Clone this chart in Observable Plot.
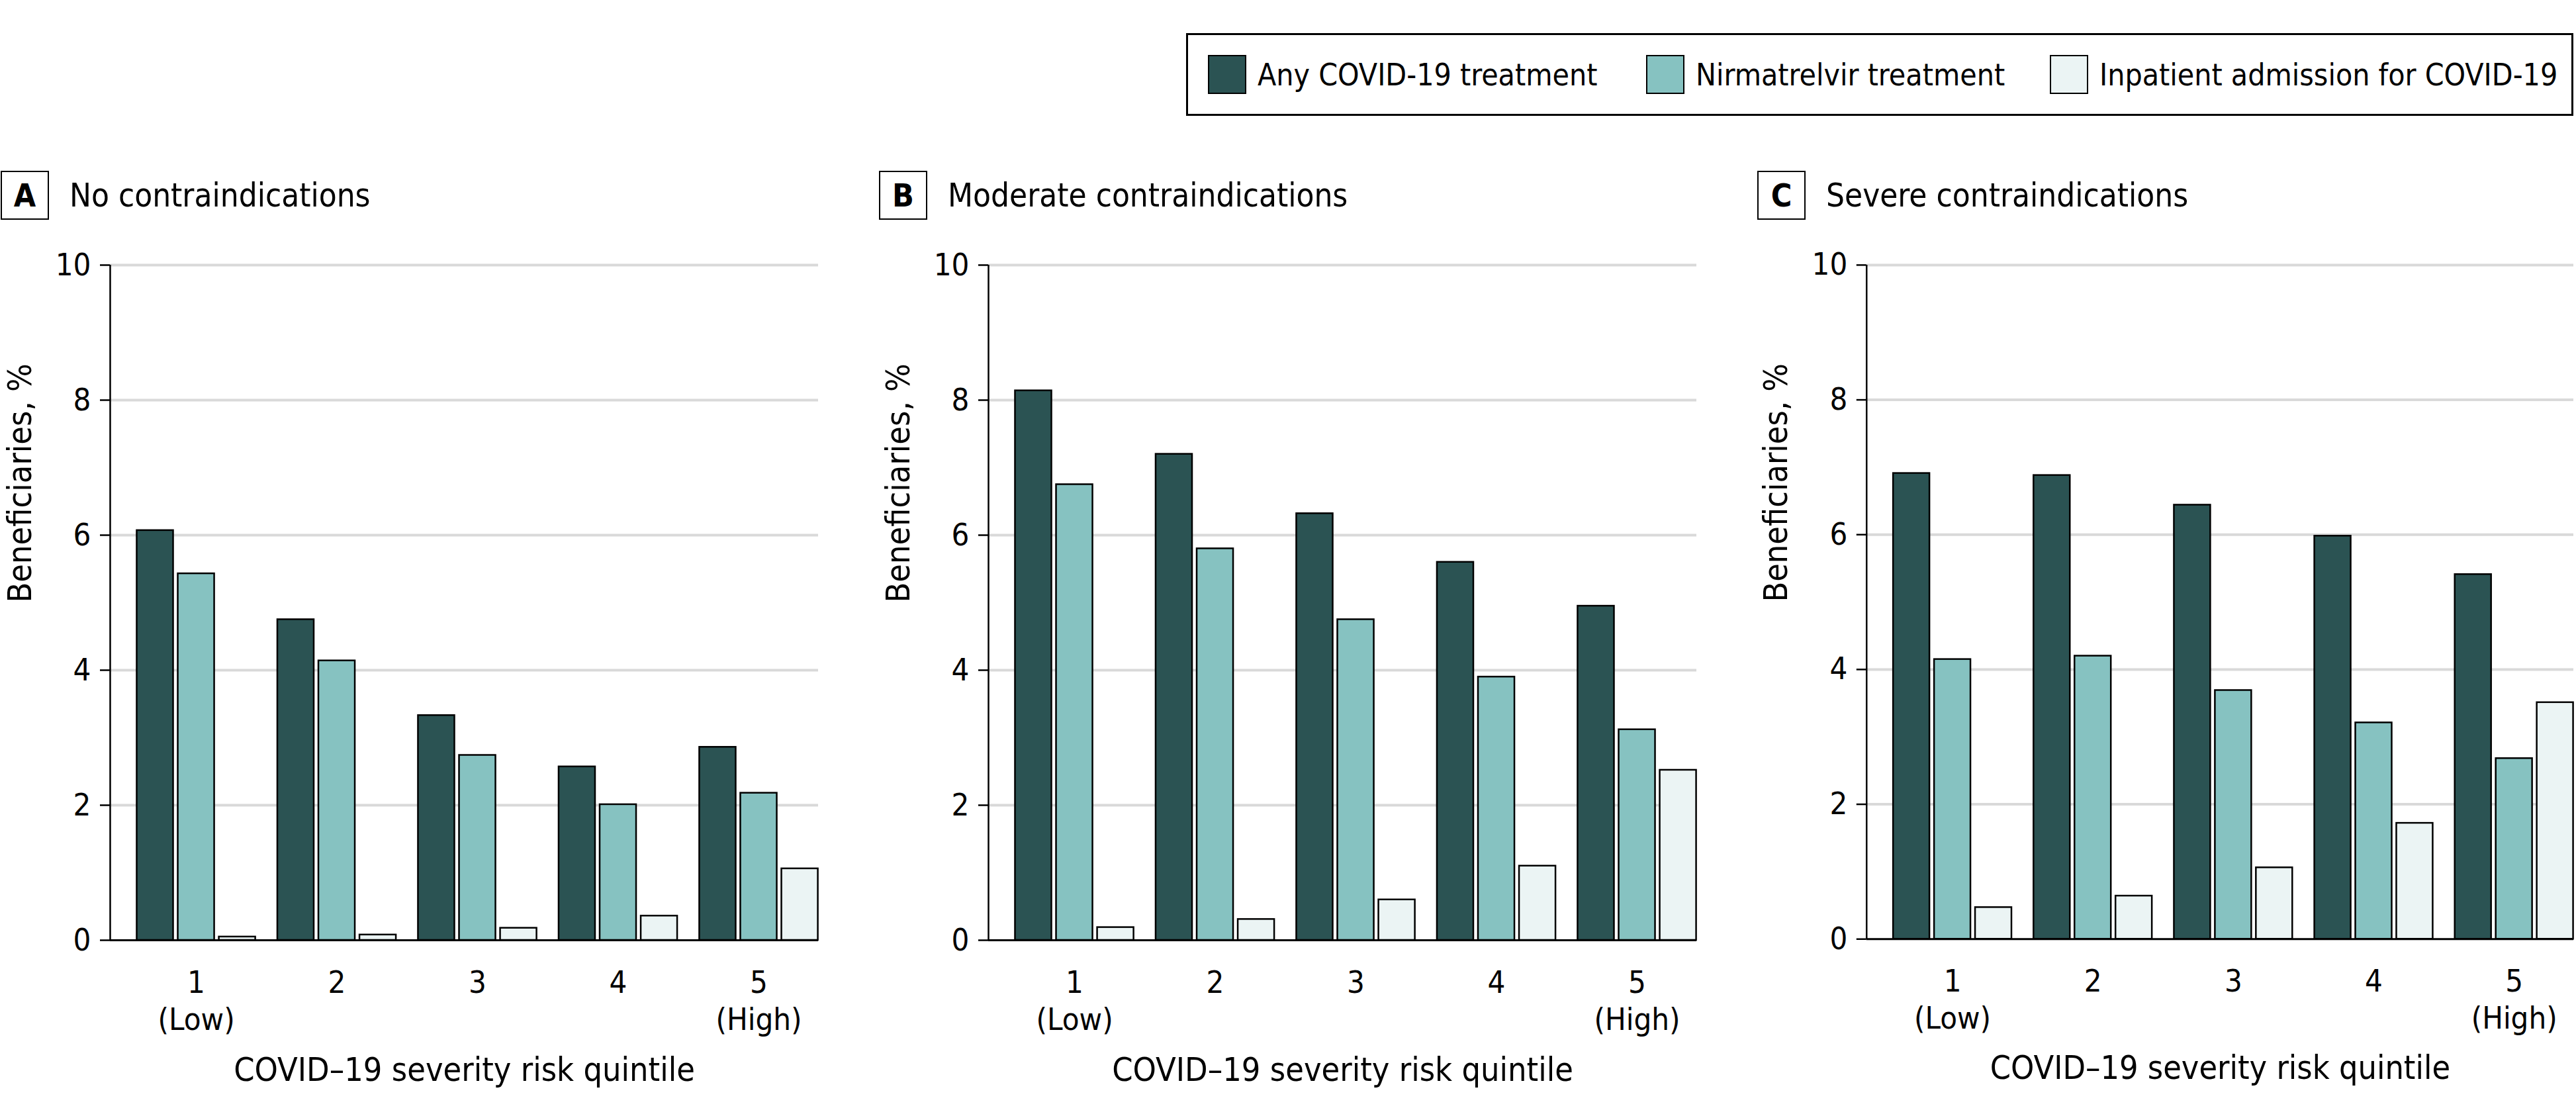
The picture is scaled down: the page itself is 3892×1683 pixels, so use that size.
<!DOCTYPE html>
<html>
<head>
<meta charset="utf-8">
<script src="https://cdn.jsdelivr.net/npm/d3@7"></script>
<script src="https://cdn.jsdelivr.net/npm/@observablehq/plot@0.6"></script>
<style>
  html, body { margin: 0; padding: 0; background: #fff; }
  #root { position: relative; width: 3892px; height: 1683px; overflow: hidden; background: #fff;
          font-family: "DejaVu Sans Condensed", "DejaVu Sans", sans-serif; font-stretch: condensed; color: #000; }
  .legend { position: absolute; left: 1792px; top: 50px; width: 2096px; height: 125px; box-sizing: border-box;
            border: 3px solid #000; }
  .legend .item { position: absolute; top: 0; height: 119px; display: flex; align-items: center; }
  .legend .sw { width: 58px; height: 59px; box-sizing: border-box; border: 2.5px solid #000; margin-right: 17px; }
  .legend .lab { font-size: 46px; white-space: nowrap; }
  .hdr-box { position: absolute; top: 258px; width: 73px; height: 74px; box-sizing: border-box; border: 2.5px solid #000;
             display: flex; align-items: center; justify-content: center; font-weight: bold; font-size: 48px; }
  .hdr-title { position: absolute; top: 258px; height: 74px; display: flex; align-items: center; font-size: 49px; white-space: nowrap; }
  .panel { position: absolute; top: 352px; }
  .panel svg { overflow: visible; }
</style>
</head>
<body>
<div id="root"></div>
<script>
// ---- data ----
const quintiles = [1, 2, 3, 4, 5];
const quintileLabels = ["1\n(Low)", "2", "3", "4", "5\n(High)"];
const seriesNames = ["Any COVID-19 treatment", "Nirmatrelvir treatment", "Inpatient admission for COVID-19"];
const seriesColors = ["#2b5353", "#86c2c1", "#ebf4f4"];
const panelLetters = ["A", "B", "C"];
const panelTitles = ["No contraindications", "Moderate contraindications", "Severe contraindications"];
const yTicks = [0, 2, 4, 6, 8, 10];
const xLabel = "COVID\u201319 severity risk quintile";
const yLabel = "Beneficiaries, %";

// A: No contraindications
const noContraAny       = [6.07, 4.75, 3.33, 2.57, 2.86];
const noContraNirm      = [5.43, 4.14, 2.74, 2.01, 2.18];
const noContraInpatient = [0.05, 0.08, 0.18, 0.36, 1.06];
// B: Moderate contraindications
const modContraAny       = [8.14, 7.20, 6.32, 5.60, 4.95];
const modContraNirm      = [6.75, 5.80, 4.75, 3.90, 3.12];
const modContraInpatient = [0.19, 0.31, 0.60, 1.10, 2.52];
// C: Severe contraindications
const sevContraAny       = [6.91, 6.88, 6.44, 5.98, 5.41];
const sevContraNirm      = [4.15, 4.20, 3.69, 3.21, 2.68];
const sevContraInpatient = [0.47, 0.64, 1.06, 1.72, 3.51];

const panels = [
  [noContraAny, noContraNirm, noContraInpatient],
  [modContraAny, modContraNirm, modContraInpatient],
  [sevContraAny, sevContraNirm, sevContraInpatient]
];

// ---- layout ----
const FONT = '"DejaVu Sans Condensed", "DejaVu Sans", sans-serif';
const PANEL_PITCH = 1327;
const BAR_W = 0.259;      // bar width in quintile-step units
const BAR_STEP = 0.292;   // distance between bar centres within a group
const X_DOMAIN = [0.388, 5.4235];

const root = document.getElementById("root");

// legend
const legend = document.createElement("div");
legend.className = "legend";
const legendX = [30, 692, 1302];
seriesNames.forEach((name, i) => {
  const item = document.createElement("div");
  item.className = "item";
  item.style.left = legendX[i] + "px";
  const sw = document.createElement("div");
  sw.className = "sw";
  sw.style.background = seriesColors[i];
  const lab = document.createElement("span");
  lab.className = "lab";
  lab.textContent = name;
  item.appendChild(sw);
  item.appendChild(lab);
  legend.appendChild(item);
});
root.appendChild(legend);

function makePanel(series) {
  const data = [];
  series.forEach((vals, s) => vals.forEach((v, i) => data.push({q: quintiles[i], s, v})));
  const cx = d => d.q + (d.s - 1) * BAR_STEP;
  return Plot.plot({
    width: 1240,
    height: 1331,
    marginLeft: 166,
    marginRight: 4,
    marginTop: 48,
    marginBottom: 263,
    style: {fontFamily: FONT, fontSize: "47px", background: "transparent", color: "#000", overflow: "visible"},
    x: {domain: X_DOMAIN},
    y: {domain: [0, 10]},
    color: {type: "ordinal", domain: [0, 1, 2], range: seriesColors},
    marks: [
      Plot.gridY(yTicks.filter(d => d > 0), {stroke: "#d9d9d9", strokeOpacity: 1, strokeWidth: 4}),
      Plot.rectY(data, {
        x1: d => cx(d) - BAR_W / 2,
        x2: d => cx(d) + BAR_W / 2,
        y1: 0,
        y2: "v",
        fill: "s",
        stroke: "#000",
        strokeWidth: 2.5
      }),
      Plot.ruleY([0], {stroke: "#000", strokeWidth: 3}),
      Plot.ruleX([X_DOMAIN[0]], {y1: 0, y2: 10, stroke: "#000", strokeWidth: 2.5}),
      Plot.axisY({ticks: yTicks, tickFormat: d => String(d), tickSize: 15, tickPadding: 14,
                  stroke: "#000", strokeWidth: 2.5, fontSize: 47, label: null}),
      Plot.axisX({ticks: quintiles, tickFormat: d => quintileLabels[quintiles.indexOf(d)],
                  tickSize: 0, tickPadding: 40, lineHeight: 1.19, fontSize: 47, label: null}),
      Plot.text([xLabel], {frameAnchor: "bottom", dy: 212, fontSize: 50, fill: "#000"}),
      Plot.text([yLabel], {frameAnchor: "left", rotate: -90, dx: -136, fontSize: 50, fill: "#000"})
    ]
  });
}

panels.forEach((series, p) => {
  const ox = p * PANEL_PITCH;
  const box = document.createElement("div");
  box.className = "hdr-box";
  box.style.left = (ox + 1) + "px";
  box.textContent = panelLetters[p];
  root.appendChild(box);
  const title = document.createElement("div");
  title.className = "hdr-title";
  title.style.left = (ox + 105) + "px";
  title.textContent = panelTitles[p];
  root.appendChild(title);
  const wrap = document.createElement("div");
  wrap.className = "panel";
  wrap.style.left = ox + "px";
  wrap.appendChild(makePanel(series));
  root.appendChild(wrap);
});
</script>
</body>
</html>
